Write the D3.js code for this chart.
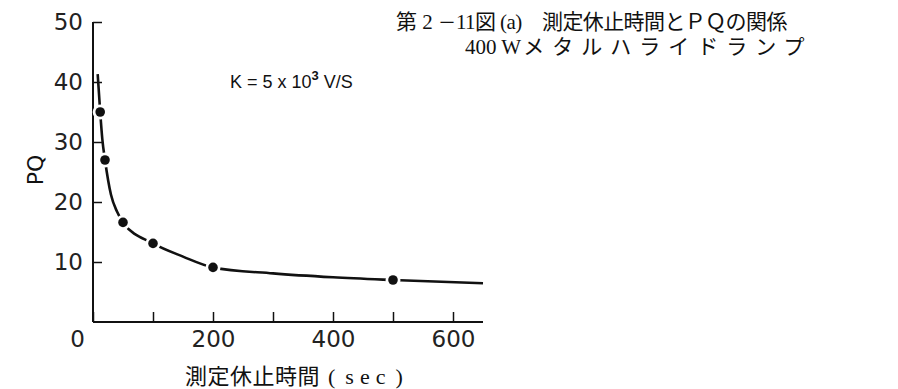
<!DOCTYPE html>
<html>
<head>
<meta charset="utf-8">
<script src="https://cdn.jsdelivr.net/npm/d3@7"></script>
<style>
  html, body { margin: 0; padding: 0; background: #fff; }
  svg { display: block; }
  .tick text { font-family: "DejaVu Sans", sans-serif; font-size: 23px; fill: #222; }
</style>
</head>
<body>
<svg id="chart" width="898" height="389"></svg>
<script>
// Measured PQ values against the measuring pause time
const pauseSec = [12, 20, 50, 100, 200, 500];
const pqValues = [35, 27, 16.6, 13.1, 9.1, 7.0];

// Hand-drawn trend curve through the measurements
const curveSec = [7.8, 12, 15.5, 20, 30, 40, 50, 100, 150, 200, 300, 400, 500, 650];
const curvePQ  = [41.3, 35, 30.5, 27, 21.2, 18.4, 16.6, 13.1, 10.9, 9.1, 8.1, 7.45, 7.0, 6.45];

const xTicks = [0, 100, 200, 300, 400, 500, 600];
const xLabels = ["0", "", "200", "", "400", "", "600"];
const yTicks = [10, 20, 30, 40, 50];

const titleLine1a = "第 2 ";
const titleLine1b = "－";
const titleLine1c = "11図 (a)　測定休止時間とＰＱの関係";
const titleLine2a = "400 W";
const titleLine2b = "メタルハライドランプ";
const xTitleA = "測定休止時間";
const xTitleB = "(";
const xTitleC = "sec";
const xTitleD = ")";
const yTitle = "PQ";

const svg = d3.select("#chart");
const ink = "#111";

const x = d3.scaleLinear().domain([0, 650]).range([93, 483]);
const y = d3.scaleLinear().domain([0, 50]).range([322, 22]);

// Y axis: ticks pointing inward
const yAxis = svg.append("g")
  .attr("transform", `translate(${x(0)},0)`)
  .call(d3.axisLeft(y).tickValues(yTicks).tickSizeInner(-9).tickSizeOuter(0).tickPadding(10));
yAxis.select(".domain").attr("d", `M0,${y(0)}V${y(50)}`);

// X axis: ticks pointing up
const xAxis = svg.append("g")
  .attr("transform", `translate(0,${y(0)})`)
  .call(d3.axisBottom(x).tickValues(xTicks)
    .tickFormat((d, i) => xLabels[i])
    .tickSizeInner(-10).tickSizeOuter(0).tickPadding(9));
xAxis.select(".domain").attr("d", `M${x(0)},0H${x(650)}`);
xAxis.selectAll(".tick").filter(d => d === 0).select("text").attr("dx", -16);

[yAxis, xAxis].forEach(g => {
  g.selectAll(".domain").attr("stroke", ink).attr("stroke-width", 2);
  g.selectAll(".tick line").attr("stroke", ink).attr("stroke-width", 1.5);
});

// Trend curve
const curveData = curveSec.map((s, i) => [s, curvePQ[i]]);
svg.append("path")
  .datum(curveData)
  .attr("fill", "none")
  .attr("stroke", ink)
  .attr("stroke-width", 2.6)
  .attr("d", d3.line().x(d => x(d[0])).y(d => y(d[1])).curve(d3.curveMonotoneX));

// Measured points, each with a small white gap around it
const pts = pauseSec.map((s, i) => [s, pqValues[i]]);
svg.append("g").selectAll("circle").data(pts).join("circle")
  .attr("cx", d => x(d[0])).attr("cy", d => y(d[1])).attr("r", 7.5).attr("fill", "#fff");
svg.append("g").selectAll("circle").data(pts).join("circle")
  .attr("cx", d => x(d[0])).attr("cy", d => y(d[1])).attr("r", 4.8).attr("fill", ink);

// Ramp-rate annotation
const k = svg.append("text")
  .attr("x", 230).attr("y", 88)
  .attr("font-family", "'Liberation Sans', sans-serif").attr("font-size", 18).attr("fill", ink);
k.append("tspan").text("K = 5 x 10");
k.append("tspan").attr("dy", -8).attr("font-size", 13).attr("font-weight", "bold").text("3");
k.append("tspan").attr("dy", 8).text(" V/S");

// Axis titles
svg.append("text")
  .attr("transform", `translate(43,170) rotate(-90)`)
  .attr("text-anchor", "middle")
  .attr("font-family", "DejaVu Sans, sans-serif").attr("font-size", 22).attr("fill", ink)
  .text(yTitle);

const xt = svg.append("text")
  .attr("x", 185).attr("y", 384)
  .attr("font-family", "'Liberation Serif', 'Noto Sans CJK JP', serif").attr("font-size", 22).attr("fill", ink);
xt.append("tspan").attr("letter-spacing", 0.5).text(xTitleA);
xt.append("tspan").attr("dx", 8).text(xTitleB);
xt.append("tspan").attr("dx", 10).attr("letter-spacing", 6).text(xTitleC);
xt.append("tspan").attr("dx", 4).text(xTitleD);

// Figure caption
const serif = "'Liberation Serif', 'Noto Sans CJK JP', serif";
const t1 = svg.append("text")
  .attr("x", 396).attr("y", 29)
  .attr("font-family", serif).attr("font-size", 21).attr("fill", ink);
t1.append("tspan").text(titleLine1a);
t1.append("tspan").attr("font-family", "'Noto Sans CJK JP', sans-serif").attr("font-size", 18).text(titleLine1b);
t1.append("tspan").text(titleLine1c).attr("letter-spacing", -0.6);
const t2 = svg.append("text")
  .attr("x", 465).attr("y", 54)
  .attr("font-family", serif).attr("font-size", 21).attr("fill", ink);
t2.append("tspan").text(titleLine2a);
t2.append("tspan").attr("dx", 2).attr("letter-spacing", 8).text(titleLine2b);
</script>
</body>
</html>
